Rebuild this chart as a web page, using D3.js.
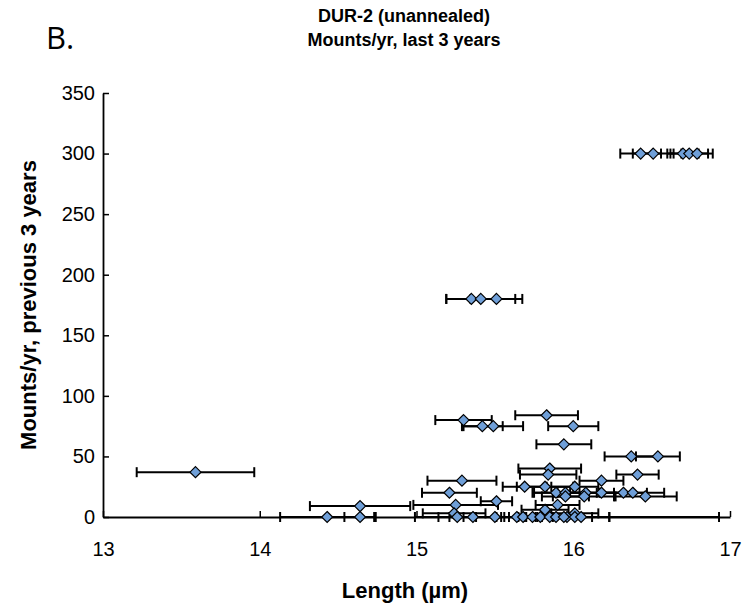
<!DOCTYPE html>
<meta charset="utf-8">
<script src="https://d3js.org/d3.v7.min.js"></script>
<style>
    body { margin: 0; background: #fff; }
    text { font-family: Arial, "Liberation Sans", sans-serif; fill: #000; }
</style>
<div id="my_chart"><svg></svg></div>
<script>
    // mean track length (µm), mounts per year and the error on length
    var lengths = [
        16.43, 16.51, 16.70, 16.74, 16.79,
        15.35, 15.41, 15.51,
        15.83, 15.30, 15.42, 15.49, 16.00, 15.94, 16.37, 16.54, 15.85, 13.59,
        15.84, 16.41, 15.29, 16.18, 15.69, 15.82, 16.01,
        15.21, 15.89, 15.95, 16.08, 16.18, 16.32, 16.38,
        15.95, 16.07, 16.46, 15.51, 15.25, 15.90, 14.64, 15.82, 15.24, 16.01,
        15.96, 14.43, 14.64, 15.26, 15.36, 15.50, 15.64, 15.68, 15.74, 15.79,
        15.85, 15.89, 15.94, 16.01, 16.05
    ];
    var mounts = [
        300, 300, 300, 300, 300,
        180, 180, 180,
        84, 80, 75, 75, 75, 60, 50, 50, 40, 37,
        35, 35, 30, 30, 25, 25, 25,
        20, 20, 20, 20, 20, 20, 20,
        17, 17, 17, 13, 10, 10, 9, 6, 3, 3,
        0, 0, 0, 0, 0, 0, 0, 0, 0, 0,
        0, 0, 0, 0, 0
    ];
    var lengthErr = [
        0.13, 0.13, 0.10, 0.12, 0.10,
        0.16, 0.22, 0.165,
        0.20, 0.18, 0.13, 0.19, 0.16, 0.175, 0.17, 0.14, 0.20, 0.375,
        0.18, 0.135, 0.22, 0.14, 0.14, 0.18, 0.15,
        0.175, 0.15, 0.20, 0.18, 0.20, 0.15, 0.20,
        0.15, 0.20, 0.20, 0.10, 0.27, 0.14, 0.32, 0.15, 0.20, 0.15,
        0.97, 0.30, 0.10, 0.12, 0.15, 0.20, 0.10, 0.12, 0.15, 0.10,
        0.20, 0.12, 0.18, 0.22, 0.18
    ];
    var xTicks = [13, 14, 15, 16, 17];
    var yTicks = [0, 50, 100, 150, 200, 250, 300, 350];

    var data = lengths.map(function(d, i) {
        return { x: d, y: mounts[i], e: lengthErr[i] };
    });

    var W = 746, H = 605;
    var margin = {top: 93, right: 16, bottom: 88, left: 103},
        width = W - margin.left - margin.right,
        height = H - margin.top - margin.bottom;

    var root = d3.select("#my_chart").select("svg")
        .attr("width", W)
        .attr("height", H);

    var svg = root.append("g")
        .attr("transform", "translate(" + margin.left + "," + margin.top + ")");

    var x = d3.scaleLinear().domain([13, 17]).range([0, width]);
    var y = d3.scaleLinear().domain([0, 350]).range([height, 0]);

    // X axis, ticks pointing inside
    var xAxis = svg.append("g")
        .attr("transform", "translate(0," + height + ")")
        .call(d3.axisBottom(x).tickValues(xTicks).tickFormat(d3.format("d"))
            .tickSizeInner(-6).tickSizeOuter(0).tickPadding(25));
    // Y axis, ticks pointing inside
    var yAxis = svg.append("g")
        .call(d3.axisLeft(y).tickValues(yTicks).tickFormat(d3.format("d"))
            .tickSizeInner(-6).tickSizeOuter(0).tickPadding(8));

    [xAxis, yAxis].forEach(function(a) {
        a.select(".domain").attr("stroke", "#000").attr("stroke-width", 1.8);
        a.selectAll(".tick line").attr("stroke", "#000").attr("stroke-width", 1.5);
        a.selectAll(".tick text").style("font-size", "20px").attr("fill", "#000");
    });

    // horizontal error bars
    var capH = 5;
    var bars = svg.append("g");
    data.forEach(function(d) {
        var yy = y(d.y);
        bars.append("line")
            .attr("x1", x(d.x - d.e)).attr("x2", x(d.x + d.e))
            .attr("y1", yy).attr("y2", yy)
            .attr("stroke", "#000").attr("stroke-width", 2);
        [d.x - d.e, d.x + d.e].forEach(function(v) {
            bars.append("line")
                .attr("x1", x(v)).attr("x2", x(v))
                .attr("y1", yy - capH).attr("y2", yy + capH)
                .attr("stroke", "#000").attr("stroke-width", 2);
        });
    });

    // diamond markers
    var r = 5.5;
    svg.append("g")
        .selectAll("path")
        .data(data)
        .enter()
        .append("path")
        .attr("d", function(d) {
            var cx = x(d.x), cy = y(d.y);
            return "M" + cx + "," + (cy - r) + "L" + (cx + r) + "," + cy +
                "L" + cx + "," + (cy + r) + "L" + (cx - r) + "," + cy + "Z";
        })
        .attr("fill", "#6f9fd8")
        .attr("stroke", "#000")
        .attr("stroke-width", 1.2);

    // titles
    root.append("text")
        .attr("x", 404).attr("y", 22)
        .attr("text-anchor", "middle")
        .style("font-size", "18px").style("font-weight", "bold")
        .text("DUR-2 (unannealed)");
    root.append("text")
        .attr("x", 404).attr("y", 46)
        .attr("text-anchor", "middle")
        .style("font-size", "18px").style("font-weight", "bold")
        .text("Mounts/yr, last 3 years");

    root.append("text")
        .attr("x", 46).attr("y", 49)
        .style("font-family", "'Open Sans', sans-serif")
        .style("font-size", "31px")
        .attr("fill", "#222")
        .text("B.");

    root.append("text")
        .attr("x", 405).attr("y", 598)
        .attr("text-anchor", "middle")
        .style("font-size", "22px").style("font-weight", "bold")
        .text("Length (µm)");

    root.append("text")
        .attr("transform", "translate(36," + (margin.top + height / 2) + ") rotate(-90)")
        .attr("text-anchor", "middle")
        .style("font-size", "22px").style("font-weight", "bold")
        .text("Mounts/yr, previous 3 years");
</script>
